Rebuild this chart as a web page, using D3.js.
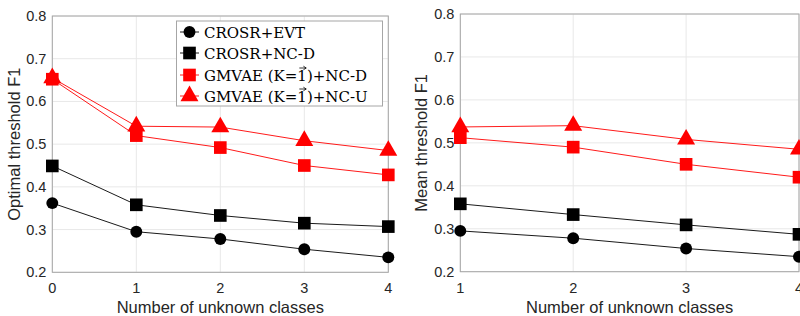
<!DOCTYPE html>
<html>
<head>
<meta charset="utf-8">
<script src="https://cdn.jsdelivr.net/npm/d3@7"></script>
<style>
body { margin: 0; background: #fff; }
svg { display: block; }
</style>
</head>
<body>
<script>
// data
const unknownLeft = [0, 1, 2, 3, 4];
const unknownRight = [1, 2, 3, 4];
const yTicks = [0.2, 0.3, 0.4, 0.5, 0.6, 0.7, 0.8];

// optimal threshold F1 (left)
const optEvt = [0.362, 0.295, 0.278, 0.254, 0.235];
const optNcd = [0.449, 0.358, 0.333, 0.315, 0.307];
const optGmNcd = [0.652, 0.520, 0.492, 0.450, 0.428];
const optGmNcu = [0.655, 0.542, 0.540, 0.508, 0.485];

// mean threshold F1 (right)
const meanEvt = [0.295, 0.278, 0.254, 0.235];
const meanNcd = [0.358, 0.333, 0.309, 0.287];
const meanGmNcd = [0.512, 0.490, 0.450, 0.420];
const meanGmNcu = [0.537, 0.540, 0.508, 0.485];

// the "1" in the GMVAE names gets a vector arrow drawn over it
const seriesNames = ["CROSR+EVT", "CROSR+NC-D", "GMVAE (K=1)+NC-D", "GMVAE (K=1)+NC-U"];
const seriesColors = ["#000", "#000", "#ff0000", "#ff0000"];
const seriesShapes = ["circle", "square", "square", "triangle"];

const W = 800, H = 316;
const svg = d3.select("body").append("svg").attr("width", W).attr("height", H);

const sym = {
  circle: d3.symbol().type(d3.symbolCircle).size(112),
  square: d3.symbol().type(d3.symbolSquare).size(160),
  triangle: d3.symbol().type(d3.symbolTriangle).size(140)
};

const sans = "Liberation Sans, Arial, sans-serif";

function panel(cats, data, xr, yr, ylabel, labelX) {
  const x = d3.scaleLinear().domain(d3.extent(cats)).range(xr);
  const y = d3.scaleLinear().domain([0.2, 0.8]).range(yr);
  const g = svg.append("g");

  // grid
  g.selectAll(".gx").data(cats).enter().append("line")
    .attr("x1", d => x(d)).attr("x2", d => x(d))
    .attr("y1", yr[0]).attr("y2", yr[1])
    .attr("stroke", "#e8e8e8");
  g.selectAll(".gy").data(yTicks).enter().append("line")
    .attr("x1", xr[0]).attr("x2", xr[1])
    .attr("y1", d => y(d)).attr("y2", d => y(d))
    .attr("stroke", "#e8e8e8");

  // box
  g.append("rect")
    .attr("x", xr[0]).attr("y", yr[1])
    .attr("width", xr[1] - xr[0]).attr("height", yr[0] - yr[1])
    .attr("fill", "none").attr("stroke", "#a6a6a6").attr("stroke-width", 1);

  // tick labels
  g.selectAll(".ty").data(yTicks).enter().append("text")
    .attr("x", xr[0] - 6).attr("y", d => y(d) + 5)
    .attr("text-anchor", "end")
    .style("font-family", sans)
    .style("font-size", "14.5px").style("fill", "#262626")
    .text(d => d.toFixed(1));
  g.selectAll(".tx").data(cats).enter().append("text")
    .attr("x", d => x(d)).attr("y", yr[0] + 21)
    .attr("text-anchor", "middle")
    .style("font-family", sans)
    .style("font-size", "14.5px").style("fill", "#262626")
    .text(d => d);

  // axis labels
  g.append("text")
    .attr("x", (xr[0] + xr[1]) / 2).attr("y", 312.5)
    .attr("text-anchor", "middle")
    .style("font-family", sans)
    .style("font-size", "16.5px").style("fill", "#262626")
    .text("Number of unknown classes");
  g.append("text")
    .attr("transform", "translate(" + labelX + "," + (yr[0] + yr[1]) / 2 + ") rotate(-90)")
    .attr("text-anchor", "middle")
    .style("font-family", sans)
    .style("font-size", "16.5px").style("fill", "#262626")
    .text(ylabel);

  // series
  const line = d3.line().x((d, i) => x(cats[i])).y(d => y(d));
  data.forEach((vals, k) => {
    g.append("path").datum(vals)
      .attr("d", line)
      .attr("fill", "none")
      .attr("stroke", seriesColors[k])
      .attr("stroke-width", 0.9);
    g.selectAll(".m" + k).data(vals).enter().append("path")
      .attr("d", sym[seriesShapes[k]])
      .attr("transform", (d, i) => "translate(" + x(cats[i]) + "," + y(d) + ")")
      .attr("fill", seriesColors[k]);
  });
  return g;
}

panel(unknownLeft, [optEvt, optNcd, optGmNcd, optGmNcu],
  [52.3, 388.3], [272.3, 16], "Optimal threshold F1", 20);
panel(unknownRight, [meanEvt, meanNcd, meanGmNcd, meanGmNcu],
  [460.3, 799], [271.7, 14], "Mean threshold F1", 427);

// legend
const leg = svg.append("g");
leg.append("rect")
  .attr("x", 176.5).attr("y", 21).attr("width", 206).attr("height", 85)
  .attr("fill", "#fff").attr("stroke", "#a6a6a6");
const rowY = [32, 53, 75, 96];
seriesNames.forEach((name, k) => {
  leg.append("line")
    .attr("x1", 180).attr("x2", 199).attr("y1", rowY[k]).attr("y2", rowY[k])
    .attr("stroke", seriesColors[k]).attr("stroke-width", 0.9);
  leg.append("path")
    .attr("d", sym[seriesShapes[k]])
    .attr("transform", "translate(189.5," + rowY[k] + ")")
    .attr("fill", seriesColors[k]);
  const t = leg.append("text")
    .attr("x", 204).attr("y", rowY[k] + 5.5)
    .style("font-family", "DejaVu Serif, serif")
    .style("font-size", "15px").style("fill", "#000")
    .text(name);
  const idx = name.indexOf("=1");
  if (idx >= 0) {
    const b = t.node().getExtentOfChar(idx + 1);
    const ay = b.y + 1.5, ax0 = b.x + 2, ax1 = b.x + b.width - 1;
    leg.append("line")
      .attr("x1", ax0).attr("x2", ax1).attr("y1", ay).attr("y2", ay)
      .attr("stroke", "#000").attr("stroke-width", 0.8);
    leg.append("path")
      .attr("d", "M" + (ax1 - 2.5) + "," + (ay - 1.8) + "L" + (ax1 + 0.4) + "," + ay + "L" + (ax1 - 2.5) + "," + (ay + 1.8))
      .attr("fill", "none").attr("stroke", "#000").attr("stroke-width", 0.8);
  }
});
</script>
</body>
</html>
